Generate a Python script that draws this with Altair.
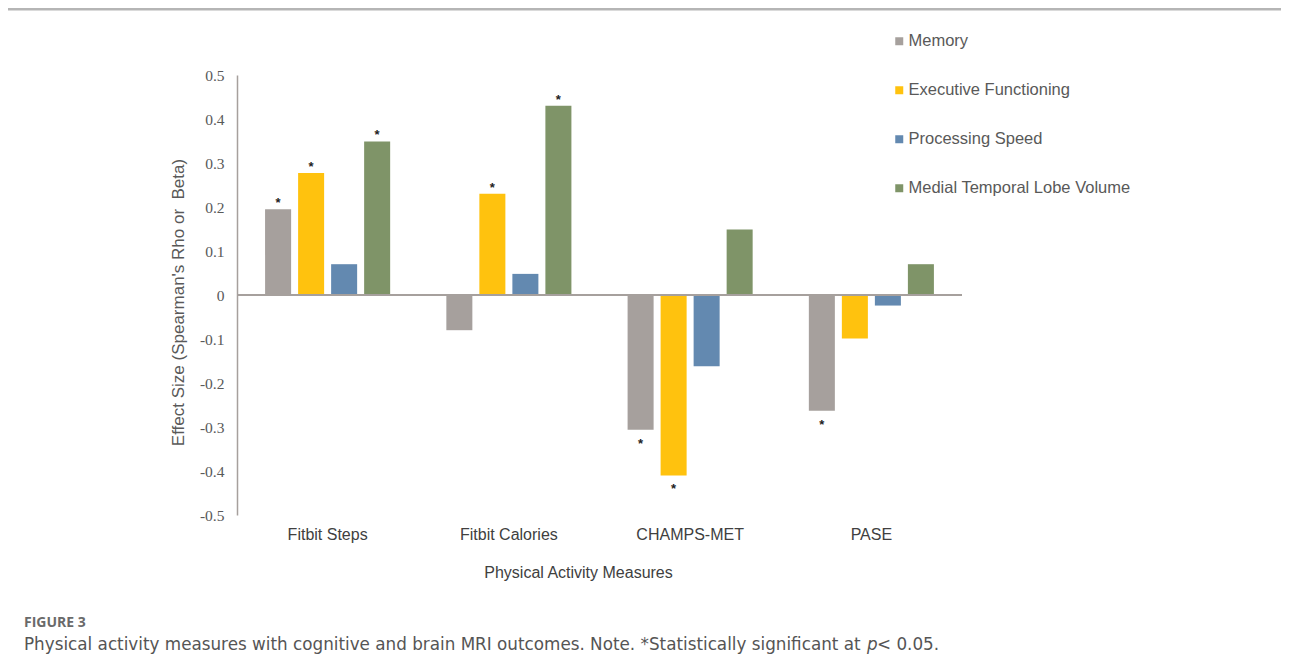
import altair as alt
import pandas as pd

categories = ["Fitbit Steps", "Fitbit Calories", "CHAMPS-MET", "PASE"]
series = ["Memory", "Executive Functioning", "Processing Speed", "Medial Temporal Lobe Volume"]
colors = ["#a6a09d", "#ffc20e", "#6389b0", "#7f9468"]

memory = [0.195, -0.080, -0.306, -0.263]
executive = [0.277, 0.230, -0.410, -0.099]
processing = [0.070, 0.048, -0.162, -0.024]
mtl_volume = [0.349, 0.430, 0.149, 0.070]

sig_memory = [True, False, True, True]
sig_executive = [True, True, True, False]
sig_processing = [False, False, False, False]
sig_mtl = [True, True, False, False]

y_ticks = [-0.5, -0.4, -0.3, -0.2, -0.1, 0, 0.1, 0.2, 0.3, 0.4, 0.5]

rows = []
for s, vals, sigs in zip(series, [memory, executive, processing, mtl_volume],
                         [sig_memory, sig_executive, sig_processing, sig_mtl]):
    for c, v, g in zip(categories, vals, sigs):
        rows.append({"measure": c, "outcome": s, "value": v, "sig": g})
df = pd.DataFrame(rows)
one = pd.DataFrame({"a": [0]})

x_enc = alt.X("measure:N", sort=categories,
              scale=alt.Scale(paddingInner=0.31, paddingOuter=0.155),
              axis=alt.Axis(title="Physical Activity Measures", labelAngle=0, domain=False,
                            ticks=False, labelPadding=11, labelFont="Liberation Sans",
                            labelFontSize=16, labelColor="#404040",
                            titleFont="Liberation Sans", titleFontSize=16,
                            titleFontWeight="normal", titleColor="#404040",
                            titleX=341, titleAlign="center",
                            titleY=62, titleBaseline="alphabetic"))
xo_enc = alt.XOffset("outcome:N", sort=series,
                     scale=alt.Scale(paddingInner=0.212, paddingOuter=0))
y_enc = alt.Y("value:Q", scale=alt.Scale(domain=[-0.5, 0.5], nice=False, zero=False),
              axis=alt.Axis(title="Effect Size (Spearman's Rho or \u00a0Beta)", values=y_ticks,
                            grid=False, ticks=False, domainColor="#a6a09d", domainWidth=1.5,
                            labelPadding=13, labelFont="Liberation Serif", labelFontSize=15.5,
                            labelColor="#595959",
                            labelExpr="toString(round(datum.value*10)/10)",
                            titleFont="Liberation Sans", titleFontSize=17,
                            titleFontWeight="normal", titleColor="#595959",
                            titleX=-59, titleY=227, titleAngle=-90,
                            titleBaseline="middle", titleAlign="center"))

bars = alt.Chart(df).mark_bar().encode(
    x=x_enc, xOffset=xo_enc, y=y_enc,
    color=alt.Color("outcome:N", sort=series,
                    scale=alt.Scale(domain=series, range=colors),
                    legend=alt.Legend(title=None, orient="none", legendX=654, legendY=-42,
                                      direction="vertical", rowPadding=32,
                                      symbolType="square", symbolSize=64,
                                      symbolStrokeWidth=0, labelFont="Liberation Sans",
                                      labelFontSize=16.5, labelColor="#595959",
                                      labelOffset=1, labelLimit=400)),
)

sig_pos = alt.Chart(df).transform_filter("datum.sig && datum.value > 0").mark_text(
    text="*", font="Liberation Sans", fontSize=13, fontWeight="bold", color="#222",
    baseline="middle", dy=-6).encode(x=alt.X("measure:N", sort=categories),
                                       xOffset=alt.XOffset("outcome:N", sort=series),
                                       y="value:Q")
sig_neg = alt.Chart(df).transform_filter("datum.sig && datum.value < 0").mark_text(
    text="*", font="Liberation Sans", fontSize=13, fontWeight="bold", color="#222",
    baseline="middle", dy=14).encode(x=alt.X("measure:N", sort=categories),
                                      xOffset=alt.XOffset("outcome:N", sort=series),
                                      y="value:Q")

zero_line = alt.Chart(one).mark_rule(color="#a6a09d", strokeWidth=2).encode(y=alt.datum(0))

frame_top = alt.Chart(one).mark_rule(color="#b5b5b5", strokeWidth=3).encode(
    x=alt.value(-230), x2=alt.value(1044), y=alt.value(-66))
frame_left = alt.Chart(one).mark_rule(color="#707070", strokeWidth=1.5).encode(
    x=alt.value(-230), y=alt.value(-67), y2=alt.value(583))

fig_label = alt.Chart(one).mark_text(
    font="Open Sans", fontSize=14, fontWeight="bold", color="#6a6a6a",
    align="left", baseline="alphabetic").encode(
    x=alt.value(-213), y=alt.value(552), text=alt.value("FIGURE 3"))
cap1 = alt.Chart(one).mark_text(
    font="DejaVu Sans", fontSize=16.8, color="#555555",
    align="left", baseline="alphabetic").encode(
    x=alt.value(-213), y=alt.value(575),
    text=alt.value("Physical activity measures with cognitive and brain MRI outcomes. Note. *Statistically significant at"))
cap_p = alt.Chart(one).mark_text(
    font="DejaVu Sans", fontSize=16.8, fontStyle="italic", color="#555555",
    align="left", baseline="alphabetic").encode(
    x=alt.value(630), y=alt.value(575), text=alt.value("p"))
cap2 = alt.Chart(one).mark_text(
    font="DejaVu Sans", fontSize=16.8, color="#555555",
    align="left", baseline="alphabetic").encode(
    x=alt.value(640), y=alt.value(575), text=alt.value("< 0.05."))

chart = alt.layer(
    bars, zero_line, sig_pos, sig_neg, frame_top, frame_left, fig_label, cap1, cap_p, cap2
).properties(
    width=725, height=440,
    autosize=alt.AutoSizeParams(type="none"),
    padding={"left": 229, "top": 67, "right": 319, "bottom": 143},
).configure(background="white").configure_view(stroke=None)

chart.save("out.html", embed_options={"renderer": "svg", "actions": False})
